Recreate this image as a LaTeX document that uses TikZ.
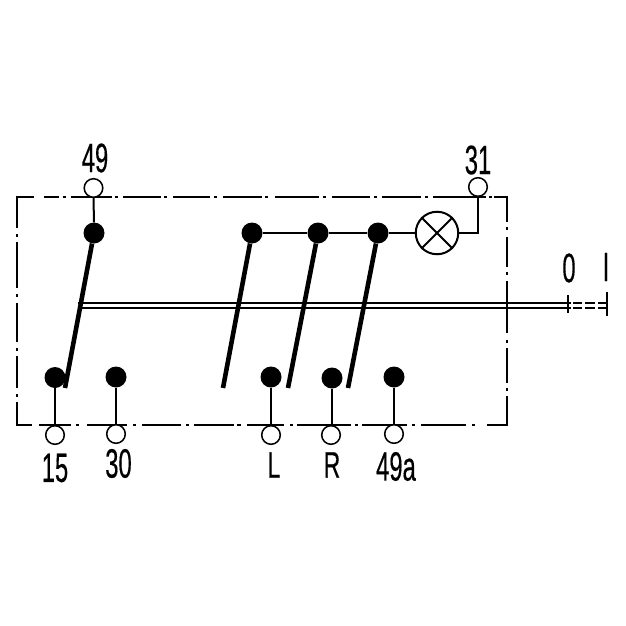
\documentclass[tikz,border=0pt]{standalone}
\usepackage{fontspec}
\setmainfont{Liberation Sans}
\newfontfamily\lblfont[FakeBold=0.5]{Liberation Sans}
\usetikzlibrary{calc}
\tikzset{
  solid dot/.style={circle,fill=black,draw=none,minimum size=21pt,inner sep=0pt},
  open dot/.style={circle,fill=white,draw=black,line width=1.5pt,minimum size=18.6pt,inner sep=0pt},
  lamp/.style={circle,fill=white,draw=black,line width=2pt,minimum size=42.5pt,inner sep=0pt},
  wire/.style={line width=2pt,draw=black},
  blade/.style={line width=4.6pt,draw=black},
  frame/.style={line width=2.1pt,draw=black},
  rod/.style={line width=2pt,draw=black},
  lbl/.style={inner sep=0pt,font=\lblfont\fontsize{41pt}{41pt}\selectfont,xscale=0.58,text=black},
  lblsmall/.style={inner sep=0pt,font=\lblfont\fontsize{37pt}{37pt}\selectfont,xscale=0.62,text=black}
}
\begin{document}
\begin{tikzpicture}[x=1pt,y=-1pt]
\useasboundingbox (0,0) rectangle (626,626);
\fill[white] (0,0) rectangle (626,626);
% frame corners
\coordinate (TL) at (17,197);
\coordinate (TR) at (507,197);
\coordinate (BL) at (17,425);
\coordinate (BR) at (507,425);
\draw[frame,dash pattern=on 18pt off 10pt on 15pt off 4pt on 3pt off 5pt on 41pt off 3pt on 3pt off 5pt on 38pt off 3pt on 3pt off 6pt on 37pt off 4pt on 3pt off 6pt on 39pt off 3pt on 3pt off 7pt on 44pt off 4pt on 3pt off 6pt on 38pt off 4pt on 3pt off 5pt on 39pt off 4pt on 3pt off 5pt on 53pt off 3pt on 3pt off 2pt on 40pt off 10pt]
  ($(TL)+(-0.9,0)$) -- ($(TR)+(0.9,0)$);
\draw[frame,dash pattern=on 31pt off 6pt on 3pt off 5pt on 46pt off 6pt on 3pt off 6pt on 39pt off 6pt on 3pt off 5pt on 32pt off 6pt on 3pt off 5pt on 40pt off 10pt]
  (TL) -- (BL);
\draw[frame,dash pattern=on 25pt off 5pt on 3pt off 7pt on 30pt off 5pt on 3pt off 6pt on 52pt off 7pt on 3pt off 5pt on 35pt off 5pt on 3pt off 5pt on 40pt off 10pt]
  (TR) -- (BR);
\draw[frame,dash pattern=on 16pt off 7pt on 32pt off 5pt on 3pt off 8pt on 40pt off 6pt on 3pt off 6pt on 39pt off 5pt on 3pt off 5pt on 40pt off 3pt on 4pt off 6pt on 37pt off 6pt on 3pt off 4pt on 54pt off 4pt on 3pt off 4pt on 45pt off 5pt on 3pt off 6pt on 45pt off 6pt on 3pt off 12pt on 40pt off 10pt]
  ($(BL)+(-0.9,0)$) -- ($(BR)+(0.9,0)$);
% rod
\coordinate (rodTL) at (78,302.7);
\coordinate (rodBL) at (78,307.5);
\coordinate (rodTR) at (568,302.7);
\coordinate (rodBR) at (568,307.5);
\coordinate (endT) at (607,302.7);
\coordinate (endB) at (607,307.5);
\draw[rod] (rodTL) -- (rodTR);
\draw[rod] (rodBL) -- (rodBR);
\draw[rod,dash pattern=on 3pt off 2pt on 9pt off 3pt on 10pt off 3pt on 10pt off 3pt] (rodTR) -- (endT);
\draw[rod,dash pattern=on 3pt off 2pt on 9pt off 3pt on 10pt off 3pt on 10pt off 3pt] (rodBR) -- (endB);
\draw[rod] ($(rodTR)+(0,-7.7)$) -- ($(rodBR)+(0,5.5)$);
\draw[rod] ($(endT)+(0,-10.7)$) -- ($(endB)+(0,8.5)$);
% terminals
\node[solid dot] (s49) at (94,233) {};
\node[solid dot] (a) at (252,233) {};
\node[solid dot] (b) at (318,233) {};
\node[solid dot] (c) at (378,233) {};
\node[lamp] (lamp) at (437,233) {};
\node[solid dot] (s15) at (55,377.5) {};
\node[solid dot] (s30) at (116,377) {};
\node[solid dot] (sL) at (271,377) {};
\node[solid dot] (sR) at (332,378) {};
\node[solid dot] (s49a) at (394,377) {};
\node[open dot] (t49) at (93.5,188) {};
\node[open dot] (t31) at (478,187) {};
\node[open dot] (t15) at (55,435) {};
\node[open dot] (t30) at (116,434) {};
\node[open dot] (tL) at (271,435) {};
\node[open dot] (tR) at (331,435) {};
\node[open dot] (t49a) at (394,434) {};
% wires
\draw[wire] (t49) -- (s49);
\draw[wire] (a) -- (b);
\draw[wire] (b) -- (c);
\draw[wire] (c) -- (lamp);
\draw[wire] (lamp.east) -| (t31.south);
\draw[wire] (lamp.45) -- (lamp.225);
\draw[wire] (lamp.135) -- (lamp.315);
\draw[wire] (s15) -- (t15);
\draw[wire] (s30) -- (t30);
\draw[wire] (sL) -- (tL);
\draw[wire] (sR.south) -- (sR.south |- tR.north);
\draw[wire] (s49a) -- (t49a);
% blades
\coordinate (e1) at (65,388);
\coordinate (e2) at (223,388);
\coordinate (e3) at (288,388);
\coordinate (e4) at (348,388);
\draw[blade] (s49) -- (e1);
\draw[blade] (a) -- (e2);
\draw[blade] (b) -- (e3);
\draw[blade] (c) -- (e4);
% labels
\node[lbl] (l49) at (95,158) {49};
\node[lbl] (l31) at (478,160) {31};
\node[lbl] (l15) at (55,468) {15};
\node[lbl] (l30) at (118.5,463.5) {30};
\node[lblsmall] (lL) at (274,465) {L};
\node[lblsmall] (lR) at (332,465) {R};
\node[lbl] (l49a) at (396,466.5) {49a};
\node[lbl] (l0) at (569,268) {0};
\node[lbl] (lI) at (606,267) {I};
\end{tikzpicture}
\end{document}
